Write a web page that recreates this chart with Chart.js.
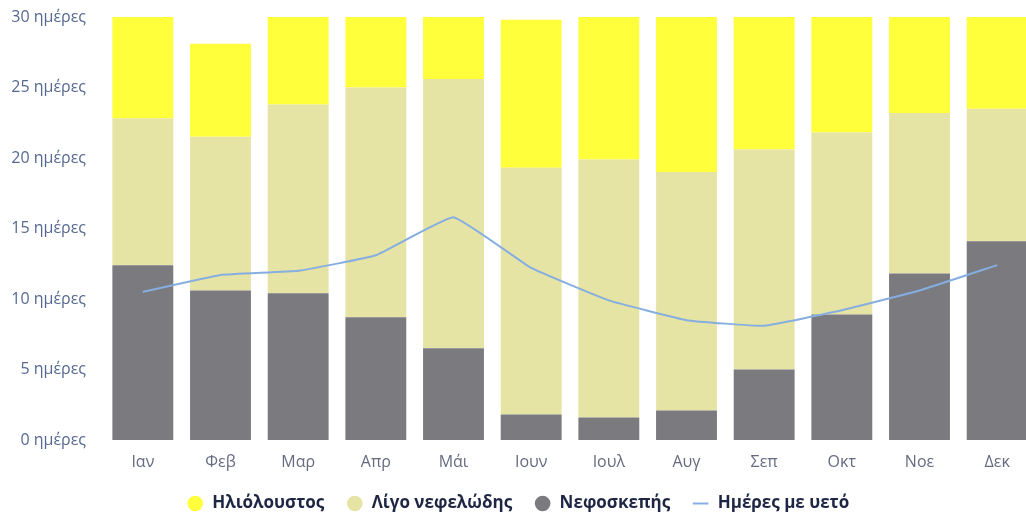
<!DOCTYPE html>
<html>
<head>
<meta charset="utf-8">
<script src="https://cdn.jsdelivr.net/npm/chart.js@4"></script>
<style>
  html, body { margin: 0; padding: 0; background: #fff; overflow: hidden; }
  #wrap { width: 1040px; height: 522px; position: relative; }
</style>
</head>
<body>
<div id="wrap"><canvas id="weatherChart"></canvas></div>
<script>
// ===== DATA =====
const months = ['Ιαν', 'Φεβ', 'Μαρ', 'Απρ', 'Μάι', 'Ιουν', 'Ιουλ', 'Αυγ', 'Σεπ', 'Οκτ', 'Νοε', 'Δεκ'];

const overcastDays = [12.4, 10.6, 10.4, 8.7, 6.5, 1.8, 1.6, 2.1, 5.0, 8.9, 11.8, 14.1];
const partlyCloudyDays = [10.4, 10.9, 13.4, 16.3, 19.1, 17.5, 18.3, 16.9, 15.6, 12.9, 11.4, 9.4];
const sunnyDays = [7.2, 6.6, 6.2, 5.0, 4.4, 10.5, 10.1, 11.0, 9.4, 8.2, 6.8, 6.5];
const rainDays = [10.5, 11.7, 12.0, 13.1, 15.8, 12.2, 9.9, 8.5, 8.1, 9.2, 10.6, 12.4];

const yTicks = [0, 5, 10, 15, 20, 25, 30];

// legend shows sunny first, rain line last
const legendRank = [2, 1, 0, 3];

const FONT = 'Open Sans';

function barSet(label, data, color) {
  return {
    type: 'bar',
    label,
    data,
    backgroundColor: color,
    borderWidth: 0,
    stack: 'days',
    categoryPercentage: 0.8,
    barPercentage: 0.98,
    clip: 0,
  };
}

const canvas = document.getElementById('weatherChart');

new Chart(canvas, {
  data: {
    labels: months,
    datasets: [
      barSet('Νεφοσκεπής', overcastDays, '#7a7a7f'),
      barSet('Λίγο νεφελώδης', partlyCloudyDays, '#e6e4a4'),
      barSet('Ηλιόλουστος', sunnyDays, '#ffff3c'),
      {
        type: 'line',
        label: 'Ημέρες με υετό',
        data: rainDays,
        borderColor: '#86aee0',
        backgroundColor: '#86aee0',
        borderWidth: 2,
        pointRadius: 0,
        pointHoverRadius: 0,
        pointStyle: 'line',
        tension: 0.1,
        fill: false,
        order: -1,
      }
    ]
  },
  options: {
    responsive: true,
    maintainAspectRatio: false,
    animation: false,
    layout: { padding: { top: 17, left: 0, right: 4, bottom: 0 } },
    plugins: {
      legend: {
        position: 'bottom',
        labels: {
          usePointStyle: true,
          boxHeight: 11,
          padding: 22,
          color: '#1e2644',
          font: { family: FONT, size: 17, weight: '700' },
          sort: (a, b) => legendRank[a.datasetIndex] - legendRank[b.datasetIndex],
        }
      },
      tooltip: { enabled: false }
    },
    scales: {
      x: {
        stacked: true,
        grid: { display: false, drawTicks: false },
        border: { display: false },
        afterFit: scale => { scale.height = 33; },
        ticks: {
          color: '#666a80',
          padding: 13,
          font: { family: FONT, size: 16 },
        }
      },
      y: {
        stacked: true,
        min: 0,
        max: 30,
        afterBuildTicks: axis => { axis.ticks = yTicks.map(v => ({ value: v })); },
        // fixed label column, no extra room above/below the first and last tick
        afterFit: scale => {
          scale.width = 104;
          scale.paddingTop = 0;
          scale.paddingBottom = 0;
        },
        grid: { display: false, drawTicks: false },
        border: { display: false },
        ticks: {
          color: '#566892',
          padding: 18,
          font: { family: FONT, size: 16 },
          callback: v => v + ' ημέρες',
        }
      }
    }
  }
});
</script>
</body>
</html>
